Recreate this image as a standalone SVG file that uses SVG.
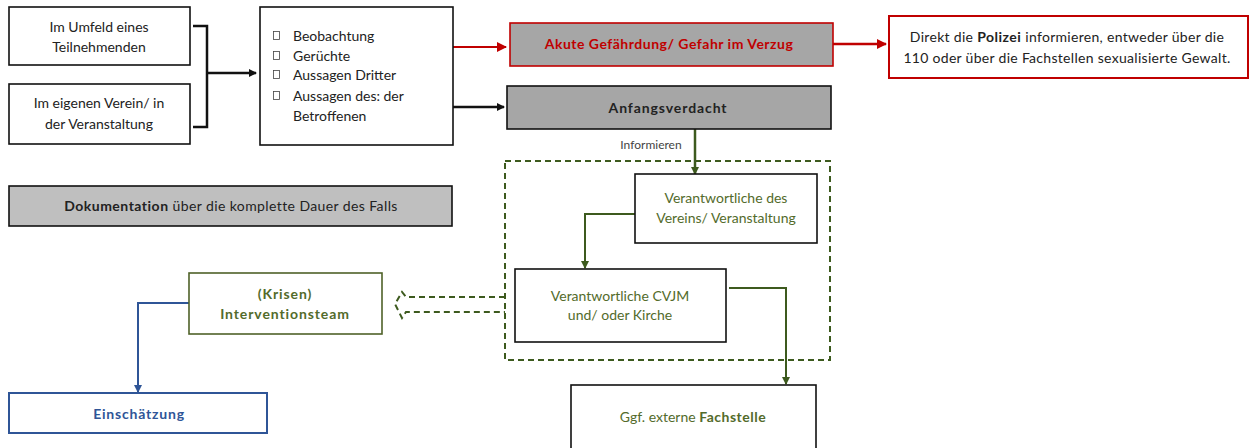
<svg xmlns="http://www.w3.org/2000/svg" width="1253" height="448" viewBox="0 0 1253 448">
<style>
text{font-family:Lato,"Noto Sans","Liberation Sans",sans-serif;font-size:14px;fill:#222}
.c{text-anchor:middle}
.b{font-weight:bold;letter-spacing:0.5px}
.box{fill:#fff;stroke:#111;stroke-width:1.6}
.gray{fill:#a6a6a6;stroke:#111;stroke-width:1.6}
.g{fill:#536b2b}
.bl{fill:#2f5597}
.r{fill:#c00000}
.ln{fill:none;stroke-width:2.5}
</style>
<defs>
<marker id="ak" markerWidth="8" markerHeight="8" refX="7" refY="4" orient="auto" markerUnits="userSpaceOnUse"><path d="M0,0L8,4L0,8z" fill="#111"/></marker>
<marker id="ar" markerWidth="10" markerHeight="10" refX="9" refY="5" orient="auto" markerUnits="userSpaceOnUse"><path d="M0,0L10,5L0,10z" fill="#c00000"/></marker>
<marker id="ag" markerWidth="8" markerHeight="8" refX="7" refY="4" orient="auto" markerUnits="userSpaceOnUse"><path d="M0,0L8,4L0,8z" fill="#3d5a1e"/></marker>
<marker id="ab" markerWidth="8" markerHeight="8" refX="7" refY="4" orient="auto" markerUnits="userSpaceOnUse"><path d="M0,0L8,4L0,8z" fill="#2f5597"/></marker>
</defs>

<g id="connectors">
<path d="M193,26H207V127H193" class="ln" stroke="#111"/>
<path d="M207,73H256" class="ln" stroke="#111" marker-end="url(#ak)"/>
<path d="M453,47H506" fill="none" stroke="#c00000" stroke-width="2" marker-end="url(#ar)"/>
<path d="M833,44H886" class="ln" stroke="#c00000" marker-end="url(#ar)"/>
<path d="M453,107H504" class="ln" stroke="#111" marker-end="url(#ak)"/>
<path d="M695,129V174" class="ln" stroke="#3d5a1e" marker-end="url(#ag)"/>
<path d="M635,214H585V268" fill="none" stroke="#3d5a1e" stroke-width="2" marker-end="url(#ag)"/>
<path d="M729,288H786V384" fill="none" stroke="#3d5a1e" stroke-width="2" marker-end="url(#ag)"/>
<path d="M505,297H406L402,292L395,304L402,318L406,312H505" fill="none" stroke="#3d5a1e" stroke-width="2" stroke-dasharray="6,4"/>
<path d="M189,303H138V392" fill="none" stroke="#2f5597" stroke-width="2" marker-end="url(#ab)"/>
</g>

<g id="n-umfeld">
<rect x="9" y="7" width="181" height="58" class="box"/>
<text x="99" y="32" class="c">Im Umfeld eines</text>
<text x="99" y="52" class="c">Teilnehmenden</text>
</g>
<g id="n-verein">
<rect x="9" y="84" width="181" height="60" class="box"/>
<text x="99" y="108" class="c">Im eigenen Verein/  in</text>
<text x="99" y="129" class="c">der Veranstaltung</text>
</g>
<g id="n-liste">
<rect x="260" y="7" width="193" height="138" class="box"/>
<g fill="none" stroke="#444" stroke-width="0.8">
<rect x="273.5" y="31.5" width="6" height="8"/>
<rect x="273.5" y="51.5" width="6" height="8"/>
<rect x="273.5" y="70.5" width="6" height="8"/>
<rect x="273.5" y="91.5" width="6" height="8"/>
</g>
<text x="293" y="41">Beobachtung</text>
<text x="293" y="61">Gerüchte</text>
<text x="293" y="80">Aussagen Dritter</text>
<text x="293" y="101">Aussagen des: der</text>
<text x="293" y="121">Betroffenen</text>
</g>
<g id="n-akut">
<rect x="510" y="23" width="323" height="43" class="gray" style="stroke:#c00000"/>
<text x="669" y="49" class="c b r">Akute Gefährdung/ Gefahr im Verzug</text>
</g>
<g id="n-polizei">
<rect x="889" y="16" width="359" height="62" class="box" style="stroke:#c00000;stroke-width:2"/>
<text x="1067" y="42" class="c" style="letter-spacing:0.3px">Direkt die <tspan class="b">Polizei</tspan> informieren,  entweder über die</text>
<text x="1067" y="63" class="c" style="letter-spacing:0.3px">110 oder über die Fachstellen sexualisierte Gewalt.</text>
</g>
<g id="n-anfang">
<rect x="507" y="86" width="324" height="43" class="gray"/>
<text x="668" y="113" class="c b" style="letter-spacing:0.9px">Anfangsverdacht</text>
</g>
<text x="651" y="149" class="c" style="font-size:12px;fill:#444">Informieren</text>
<g id="n-doku">
<rect x="9" y="186" width="443" height="40" class="gray" style="fill:#bfbfbf"/>
<text x="231" y="211" class="c" style="letter-spacing:0.4px"><tspan class="b">Dokumentation</tspan> über die komplette Dauer des Falls</text>
</g>
<g id="n-gruppe">
<rect x="505" y="161" width="325" height="199" fill="none" stroke="#3d5a1e" stroke-width="2" stroke-dasharray="6,4"/>
</g>
<g id="n-vereinverantw">
<rect x="635" y="174" width="182" height="69" class="box"/>
<text x="726" y="203" class="c g">Verantwortliche  des</text>
<text x="726" y="223" class="c g">Vereins/ Veranstaltung</text>
</g>
<g id="n-cvjm">
<rect x="515" y="269" width="211" height="73" class="box"/>
<text x="620" y="301" class="c g">Verantwortliche  CVJM</text>
<text x="620" y="320" class="c g">und/ oder Kirche</text>
</g>
<g id="n-fachstelle">
<rect x="571" y="385" width="245" height="70" class="box"/>
<text x="693" y="422" class="c g">Ggf. externe <tspan class="b">Fachstelle</tspan></text>
</g>
<g id="n-krisen">
<rect x="189" y="273" width="193" height="61" class="box" style="stroke:#4f6228"/>
<text x="285" y="299" class="c b g" style="letter-spacing:0.9px">(Krisen)</text>
<text x="285" y="319" class="c b g" style="letter-spacing:0.9px">Interventionsteam</text>
</g>
<g id="n-einschaetzung">
<rect x="9" y="393" width="258" height="40" class="box" style="stroke:#2f5597;stroke-width:2"/>
<text x="139" y="419" class="c b bl" style="letter-spacing:0.8px">Einschätzung</text>
</g>
</svg>
